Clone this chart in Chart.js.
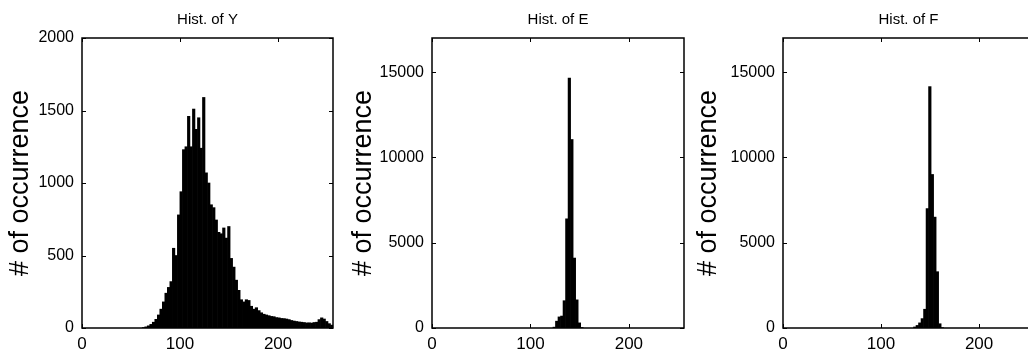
<!DOCTYPE html>
<html>
<head>
<meta charset="utf-8">
<title>Histograms of Y, E and F</title>
<script src="https://cdn.jsdelivr.net/npm/chart.js@4"></script>
<style>
    html, body {
        margin: 0;
        padding: 0;
        background: #fff;
        overflow: hidden;
    }
    .panel {
        position: absolute;
        top: 0;
        height: 358px;
    }
</style>
</head>
<body>

<div class="panel" style="left:0px;width:343px"><canvas id="histY"></canvas></div>
<div class="panel" style="left:345px;width:345px"><canvas id="histE"></canvas></div>
<div class="panel" style="left:690px;width:350px"><canvas id="histF"></canvas></div>

<script>
// 100 bins over 0..256, counts start at the first non-empty bin
const BIN_WIDTH = 2.56;

const yStartBin = 24;
const yCounts = [
    3, 8, 15, 25, 40, 60, 90, 130, 180, 240,
    280, 320, 550, 500, 780, 940, 1230, 1250, 1460, 1250,
    1510, 1370, 1450, 1240, 1590, 1070, 1000, 850, 830, 745,
    660, 650, 690, 620, 700, 480, 420, 330, 260, 195,
    180, 195, 190, 150, 130, 140, 120, 105, 95, 90,
    85, 80, 78, 72, 70, 66, 65, 62, 58, 52,
    48, 45, 42, 40, 38, 35, 36, 34, 38, 40,
    58, 70, 62, 45, 30, 20
];

const eStartBin = 48;
const eCounts = [50, 400, 650, 700, 1600, 6400, 14650, 11050, 4100, 1650, 300, 30];

const fStartBin = 52;
const fCounts = [60, 150, 300, 550, 1100, 7000, 14150, 9000, 6500, 3300, 250, 20];

// axis limits and tick labels
const X_MAX = 256;
const xTickValues = [0, 100, 200];
const Y_MAX_Y = 2000;
const yTickValuesY = [0, 500, 1000, 1500, 2000];
const Y_MAX_EF = 17000;
const yTickValuesEF = [0, 5000, 10000, 15000];

const FONT = "'Liberation Sans', Arial, sans-serif";


function toBars(startBin, counts) {
    return counts.map((c, i) => ({ x: (startBin + i + 0.5) * BIN_WIDTH, y: c }));
}

// box round the axes with inward tick marks on all four sides
const boxAxes = {
    id: "boxAxes",
    afterDraw(chart) {
        const { ctx, chartArea: a, scales } = chart;
        const tick = 4;

        ctx.save();
        ctx.strokeStyle = "#000";
        ctx.lineWidth = 1.5;
        ctx.strokeRect(a.left, a.top, a.right - a.left, a.bottom - a.top);

        ctx.lineWidth = 1;
        ctx.beginPath();
        scales.x.ticks.forEach(t => {
            const px = Math.round(scales.x.getPixelForValue(t.value)) + 0.5;
            ctx.moveTo(px, a.bottom); ctx.lineTo(px, a.bottom - tick);
            ctx.moveTo(px, a.top); ctx.lineTo(px, a.top + tick);
        });
        scales.y.ticks.forEach(t => {
            const py = Math.round(scales.y.getPixelForValue(t.value)) + 0.5;
            ctx.moveTo(a.left, py); ctx.lineTo(a.left + tick, py);
            ctx.moveTo(a.right, py); ctx.lineTo(a.right - tick, py);
        });
        ctx.stroke();
        ctx.restore();
    }
};


function renderHistogram(canvasId, title, startBin, counts, yMax, yTickValues, yWidth, padRight, labelPad) {
    const ctx = document.getElementById(canvasId);

    return new Chart(ctx, {
        type: "bar",
        data: {
            datasets: [{
                data: toBars(startBin, counts),
                backgroundColor: "#000",
                borderWidth: 0,
                barPercentage: 1,
                categoryPercentage: 1
            }]
        },
        options: {
            responsive: true,
            maintainAspectRatio: false,
            animation: false,
            layout: { padding: { left: 0, right: padRight, top: 0, bottom: 0 } },
            plugins: {
                legend: { display: false },
                tooltip: { enabled: false },
                title: {
                    display: true,
                    fullSize: false,
                    text: title,
                    color: "#000",
                    font: { family: FONT, size: 15, weight: "normal" },
                    padding: { top: 11, bottom: 9 }
                }
            },
            scales: {
                x: {
                    type: "linear",
                    min: 0,
                    max: X_MAX,
                    offset: false,
                    grid: { display: false, drawTicks: false },
                    border: { display: false },
                    afterBuildTicks: scale => {
                        scale.ticks = xTickValues.map(v => ({ value: v }));
                    },
                    ticks: {
                        maxRotation: 0,
                        padding: 6,
                        color: "#000",
                        font: { family: FONT, size: 17 },
                        callback: v => String(v)
                    },
                    afterFit: scale => { scale.height = 30; }
                },
                y: {
                    min: 0,
                    max: yMax,
                    grid: { display: false, drawTicks: false },
                    border: { display: false },
                    afterBuildTicks: scale => {
                        scale.ticks = yTickValues.map(v => ({ value: v }));
                    },
                    ticks: {
                        padding: 8,
                        color: "#000",
                        font: { family: FONT, size: 16 },
                        callback: v => String(v)
                    },
                    title: {
                        display: true,
                        text: "# of occurrence",
                        color: "#000",
                        font: { family: FONT, size: 27 },
                        padding: { top: labelPad, bottom: 0 }
                    },
                    afterFit: scale => { scale.width = yWidth; }
                }
            }
        },
        plugins: [boxAxes]
    });
}


document.addEventListener("DOMContentLoaded", () => {
    renderHistogram("histY", "Hist. of Y", yStartBin, yCounts, Y_MAX_Y, yTickValuesY, 82, 10, 4);
    renderHistogram("histE", "Hist. of E", eStartBin, eCounts, Y_MAX_EF, yTickValuesEF, 87, 6, 2);
    renderHistogram("histF", "Hist. of F", fStartBin, fCounts, Y_MAX_EF, yTickValuesEF, 93, 6, 2);
});
</script>
</body>
</html>
